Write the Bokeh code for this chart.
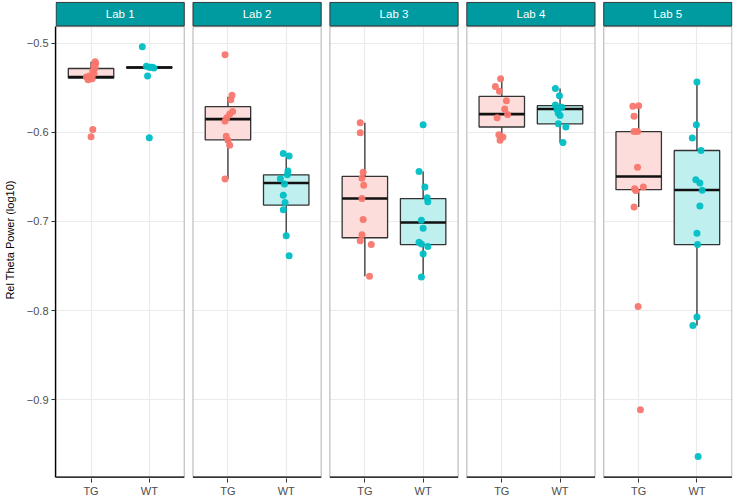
from bokeh.plotting import figure
from bokeh.models import Range1d, FixedTicker, CustomJSTickFormatter
from bokeh.embed import file_html
from bokeh.resources import INLINE
from bokeh.core.properties import value

# ---------------- data ----------------
labs = ["Lab 1", "Lab 2", "Lab 3", "Lab 4", "Lab 5"]
groups = ["TG", "WT"]
y_ticks = [-0.9, -0.8, -0.7, -0.6, -0.5]

tg_values = [
    [-0.521, -0.523, -0.525, -0.528, -0.531, -0.534, -0.537, -0.538, -0.539, -0.540, -0.541, -0.597, -0.605],
    [-0.513, -0.5584, -0.5636, -0.5768, -0.5794, -0.5838, -0.5875, -0.6045, -0.609, -0.6145, -0.6525],
    [-0.5894, -0.6004, -0.6447, -0.6514, -0.6595, -0.6743, -0.6979, -0.7148, -0.7215, -0.7259, -0.7613],
    [-0.5399, -0.5487, -0.5539, -0.5647, -0.5739, -0.5802, -0.5838, -0.6027, -0.6052, -0.609],
    [-0.5709, -0.5702, -0.582, -0.599, -0.599, -0.6392, -0.6613, -0.6632, -0.6654, -0.6838, -0.7953, -0.9109],
]
tg_jitter = [
    [0.07, 0.08, 0.05, 0.07, 0.03, 0.05, -0.03, -0.08, 0.0, 0.02, -0.05, 0.03, 0.0],
    [-0.05, 0.07, 0.05, 0.08, 0.03, -0.02, -0.05, -0.03, 0.0, 0.03, -0.05],
    [-0.08, -0.08, -0.03, -0.05, -0.02, -0.05, -0.03, -0.05, -0.08, 0.11, 0.08],
    [-0.02, -0.11, -0.04, 0.08, 0.05, 0.1, -0.08, -0.05, 0.02, -0.03],
    [-0.1, 0.0, -0.08, -0.08, -0.02, -0.02, 0.08, -0.07, -0.05, -0.08, -0.01, 0.03],
]
wt_values = [
    [-0.504, -0.526, -0.527, -0.527, -0.528, -0.527, -0.537, -0.606],
    [-0.6237, -0.6267, -0.6433, -0.6477, -0.652, -0.658, -0.6706, -0.6787, -0.6868, -0.7159, -0.7385],
    [-0.5916, -0.644, -0.6613, -0.6735, -0.678, -0.6987, -0.7075, -0.7234, -0.7252, -0.7281, -0.7363, -0.7621],
    [-0.551, -0.5591, -0.5694, -0.572, -0.5746, -0.5786, -0.5813, -0.5905, -0.5941, -0.6115],
    [-0.5436, -0.5916, -0.6063, -0.6204, -0.6532, -0.6569, -0.665, -0.6827, -0.7131, -0.7259, -0.8072, -0.8167, -0.9633],
]
wt_jitter = [
    [-0.12, -0.05, 0.0, 0.05, 0.08, 0.03, -0.03, 0.0],
    [-0.05, 0.05, 0.03, 0.02, -0.1, -0.03, -0.05, -0.02, -0.05, 0.0, 0.05],
    [0.0, -0.07, 0.03, 0.07, 0.08, -0.03, 0.0, -0.07, -0.03, 0.08, 0.0, -0.03],
    [-0.08, -0.01, -0.08, 0.03, -0.05, -0.03, 0.0, -0.03, 0.1, 0.05],
    [0.0, -0.01, -0.08, 0.07, -0.02, 0.05, 0.09, 0.05, 0.0, 0.01, 0.0, -0.07, 0.02],
]

# box statistics per lab: lower whisker, q1, median, q3, upper whisker
tg_low = [-0.541, -0.6525, -0.7613, -0.609, -0.6838]
tg_q1 = [-0.5392, -0.6085, -0.7182, -0.5941, -0.6643]
tg_med = [-0.538, -0.5853, -0.6743, -0.5797, -0.6495]
tg_q3 = [-0.5285, -0.5713, -0.6495, -0.5598, -0.5993]
tg_high = [-0.521, -0.5602, -0.5894, -0.5399, -0.5702]

wt_low = [-0.529, -0.7159, -0.7621, -0.6115, -0.8167]
wt_q1 = [-0.528, -0.6816, -0.7259, -0.5905, -0.7259]
wt_med = [-0.5273, -0.6569, -0.7012, -0.5739, -0.6647]
wt_q3 = [-0.5266, -0.6477, -0.6743, -0.5702, -0.6204]
wt_high = [-0.526, -0.6273, -0.644, -0.551, -0.5436]

# ---------------- layout / style ----------------
PW = 2.2          # panel width (categories 1, 2 with 0.6 padding)
GAP = 0.15        # gap between panels
Y0, Y1 = -0.9866, -0.4816
STRIP_B = Y1 + 0.0008
STRIP_T = Y1 + 0.0272
BOX_HALF = 0.39

TG_COL = "#F8766D"
WT_COL = "#00BFC4"
TG_FILL = "#FDDDDB"
WT_FILL = "#C0EFF0"
STRIP_COL = "#009BA0"
FONT = "Liberation Sans"

n = len(labs)
offsets = [k * (PW + GAP) for k in range(n)]
tg_x = [o + 0.6 for o in offsets]
wt_x = [o + 1.6 for o in offsets]
x_ticks = sorted(tg_x + wt_x)

p = figure(width=734, height=499,
           x_range=Range1d(-0.01, n * PW + (n - 1) * GAP + 0.01),
           y_range=Range1d(Y0 - 0.0015, STRIP_T + 0.001),
           output_backend="svg", toolbar_location=None,
           min_border_left=46, min_border_right=2, min_border_top=1, min_border_bottom=12)
p.outline_line_color = None
p.background_fill_color = "white"

# grids
p.xgrid.ticker = FixedTicker(ticks=x_ticks)
p.ygrid.ticker = FixedTicker(ticks=y_ticks)
p.xgrid.grid_line_color = "#EBEBEB"
p.ygrid.grid_line_color = "#EBEBEB"
p.xgrid.grid_line_width = 1.2
p.ygrid.grid_line_width = 1.2

# axes
p.xaxis.ticker = FixedTicker(ticks=x_ticks)
p.xaxis.formatter = CustomJSTickFormatter(
    args=dict(step=PW + GAP, names=groups),
    code="const r = tick - Math.floor(tick / step + 1e-6) * step; return r < 1.1 ? names[0] : names[1];")
p.xaxis.axis_line_color = None
p.xaxis.major_tick_line_color = "#333333"
p.xaxis.major_tick_out = 4
p.xaxis.major_tick_in = 0
p.xaxis.minor_tick_line_color = None
p.xaxis.major_label_text_font_size = "11px"
p.xaxis.major_label_text_color = "#4D4D4D"
p.xaxis.major_label_text_font = FONT
p.xaxis.major_label_standoff = 2

p.yaxis.ticker = FixedTicker(ticks=y_ticks)
p.yaxis.bounds = (Y0, Y1)
p.yaxis.axis_line_color = "black"
p.yaxis.axis_line_width = 1.3
p.yaxis.major_tick_line_color = "#333333"
p.yaxis.major_tick_out = 4
p.yaxis.major_tick_in = 0
p.yaxis.minor_tick_line_color = None
p.yaxis.major_label_text_font_size = "11px"
p.yaxis.major_label_text_color = "#4D4D4D"
p.yaxis.major_label_text_font = FONT
p.yaxis.major_label_standoff = 3
p.yaxis.axis_label = "Rel Theta Power (log10)"
p.yaxis.axis_label_text_font = FONT
p.yaxis.axis_label_text_font_size = "11px"
p.yaxis.axis_label_text_font_style = "normal"
p.yaxis.axis_label_text_color = "black"
p.yaxis.axis_label_standoff = 8

# white gaps between panels (hide grid lines there)
gap_left = [o + PW for o in offsets[:-1]]
gap_right = [o + PW + GAP for o in offsets[:-1]]
p.quad(left=gap_left, right=gap_right, bottom=Y0 - 0.01, top=STRIP_T + 0.01,
       fill_color="white", line_color=None)

# panel borders
p.quad(left=offsets, right=[o + PW for o in offsets], bottom=Y0, top=Y1,
       fill_color=None, line_color="#BDBDBD", line_width=1.2)

# boxplots
def draw_boxes(xs, low, q1, med, q3, high, fill):
    p.segment(x0=xs, y0=low, x1=xs, y1=q1, line_color="#333333", line_width=1.3)
    p.segment(x0=xs, y0=q3, x1=xs, y1=high, line_color="#333333", line_width=1.3)
    p.quad(left=[x - BOX_HALF for x in xs], right=[x + BOX_HALF for x in xs],
           bottom=q1, top=q3, fill_color=fill, line_color="#333333", line_width=1.3)
    p.segment(x0=[x - BOX_HALF for x in xs], y0=med, x1=[x + BOX_HALF for x in xs], y1=med,
              line_color="#111111", line_width=2.6)

draw_boxes(tg_x, tg_low, tg_q1, tg_med, tg_q3, tg_high, TG_FILL)
draw_boxes(wt_x, wt_low, wt_q1, wt_med, wt_q3, wt_high, WT_FILL)

# jittered points
def draw_points(xs, vals, jit, color):
    px, py = [], []
    for cx, vs, js in zip(xs, vals, jit):
        for v, j in zip(vs, js):
            px.append(cx + j)
            py.append(v)
    p.scatter(x=px, y=py, size=7, fill_color=color, line_color=None, fill_alpha=0.95)

draw_points(tg_x, tg_values, tg_jitter, TG_COL)
draw_points(wt_x, wt_values, wt_jitter, WT_COL)

# bottom axis lines per panel
p.segment(x0=offsets, y0=Y0, x1=[o + PW for o in offsets], y1=Y0,
          line_color="black", line_width=1.3)

# facet strips
p.quad(left=offsets, right=[o + PW for o in offsets], bottom=STRIP_B, top=STRIP_T,
       fill_color=STRIP_COL, line_color="#333333", line_width=1)
p.text(x=[o + PW / 2 for o in offsets], y=[(STRIP_B + STRIP_T) / 2] * n, text=labs,
       text_align="center", text_baseline="middle", text_color="white",
       text_font=value(FONT), text_font_size="11.5px")

open("out.html", "w").write(file_html(p, INLINE))
